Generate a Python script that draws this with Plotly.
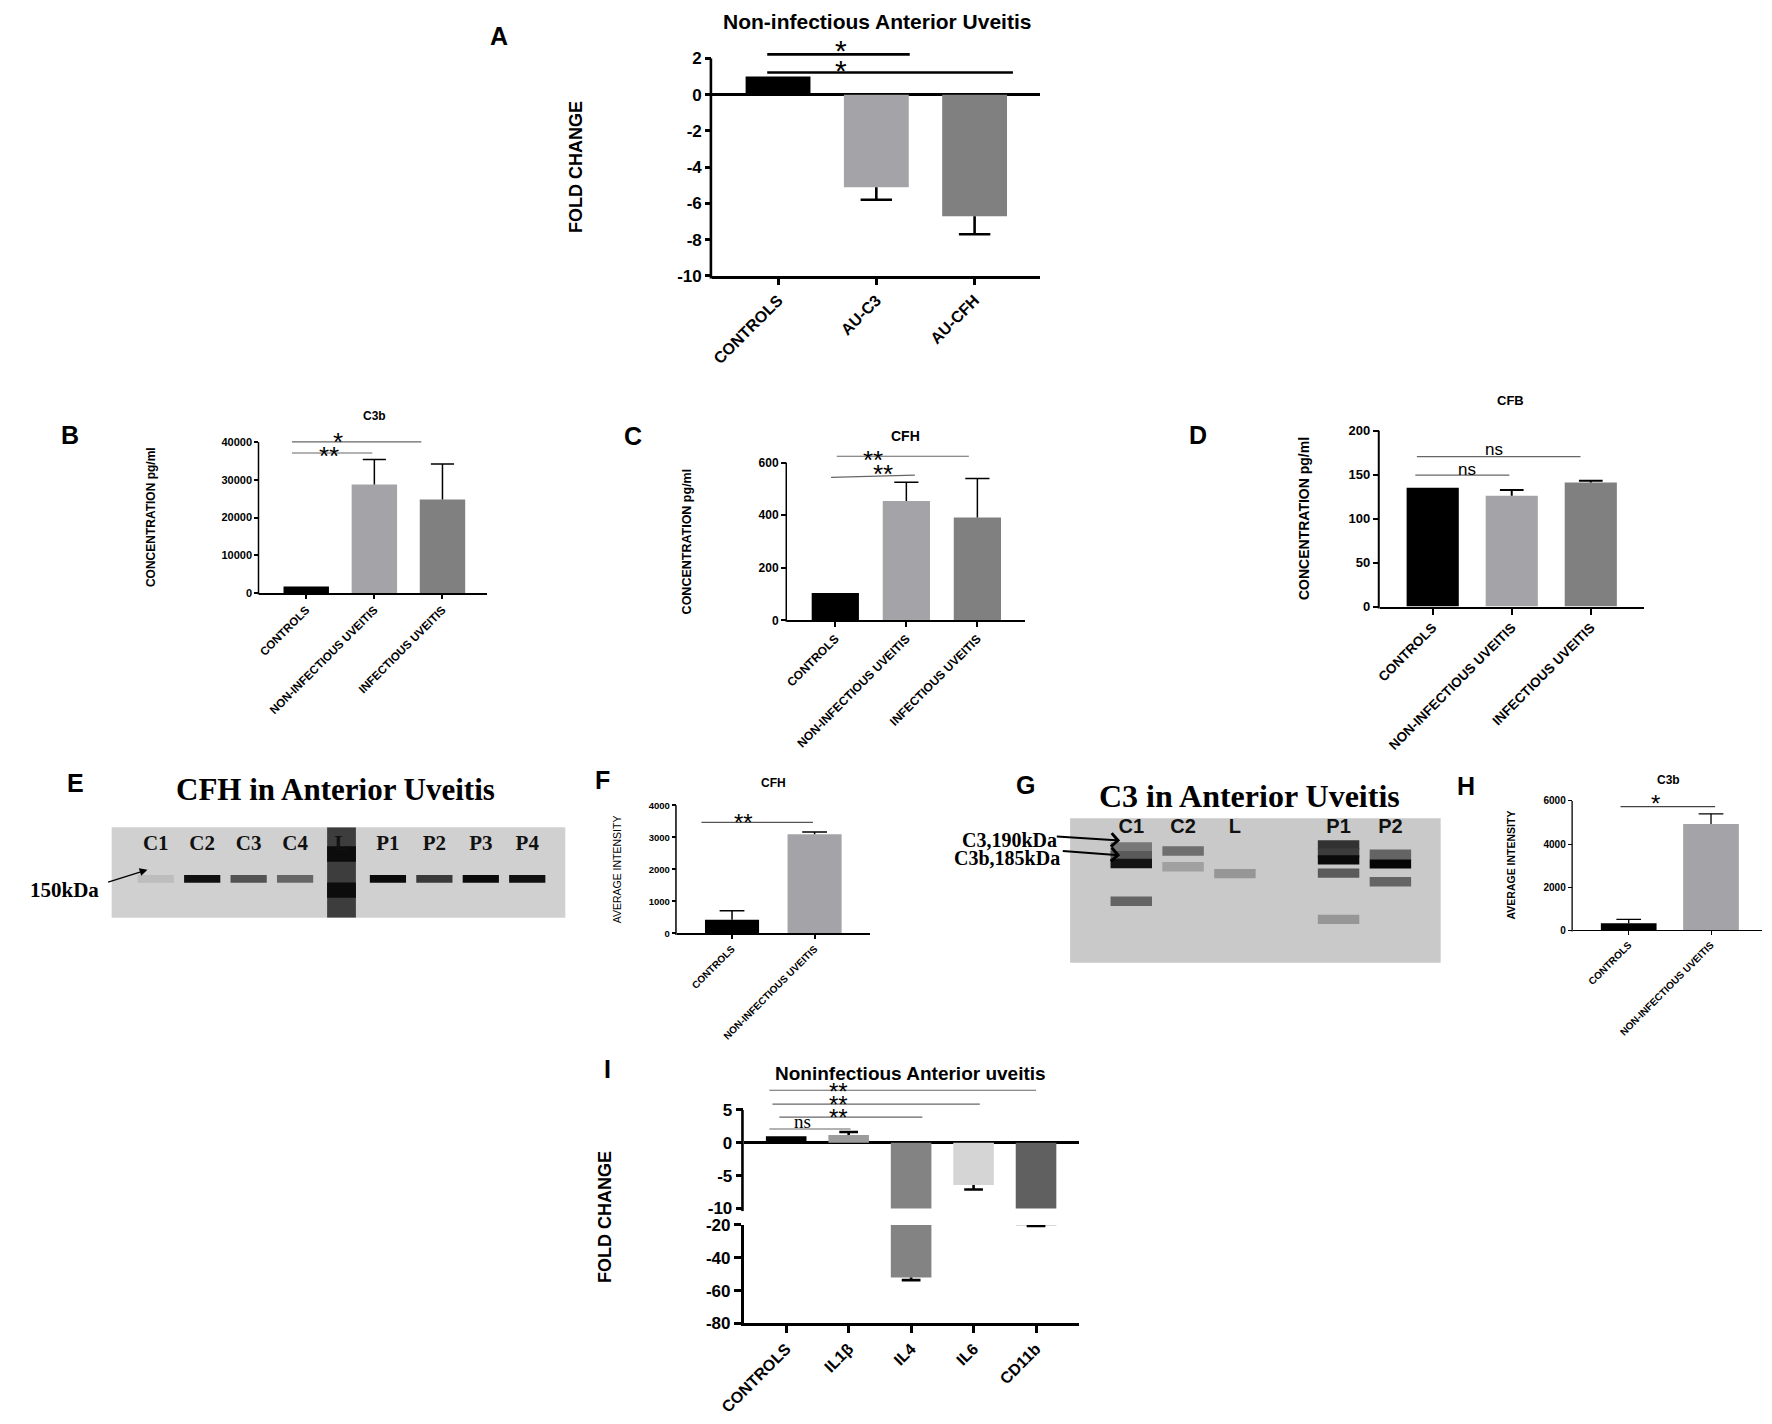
import plotly.graph_objects as go

# the page body keeps its default 8px margin, so the figure is drawn
# slightly smaller and every page position is shifted by that margin
PAGE_W, PAGE_H = 1772, 1424
OFF = 8
FW, FH = PAGE_W - 2 * OFF, PAGE_H - 2 * OFF
SANS = "Liberation Sans"
SERIF = "Liberation Serif"

# ---------------- data ----------------
# A: qPCR fold change
a_cats = ["CONTROLS", "AU-C3", "AU-CFH"]
a_vals = [1.0, -5.1, -6.7]
a_err = [0.0, 0.7, 1.0]

# B-D: ELISA concentrations
uv_cats = ["CONTROLS", "NON-INFECTIOUS UVEITIS", "INFECTIOUS UVEITIS"]
b_vals = [1700, 28800, 24800]
b_err = [0, 6600, 9400]
c_vals = [104, 454, 391]
c_err = [0, 71, 148]
d_vals = [135, 126, 141]
d_err = [0, 6.7, 2.2]

# F, H: blot densitometry
wb_cats = ["CONTROLS", "NON-INFECTIOUS UVEITIS"]
f_vals = [430, 3100]
f_err = [278, 70]
h_vals = [320, 4930]
h_err = [184, 475]

# I: cytokine fold change
i_cats = ["CONTROLS", "IL1β", "IL4", "IL6", "CD11b"]
i_vals = [1.0, 1.2, -52.0, -6.4, -20.2]
i_err = [0.0, 0.45, 1.6, 0.7, 0.5]

# E: CFH western blot (band strength at 150 kDa per lane)
e_lanes = ["C1", "C2", "C3", "C4", "L", "P1", "P2", "P3", "P4"]
e_band = [0.08, 0.92, 0.6, 0.5, 0.0, 0.95, 0.72, 0.95, 0.92]

# G: C3 western blot (relative migration and strength of each band)
g_lanes = ["C1", "C2", "L", "", "P1", "P2"]
g_band_lane = ["C1", "C1", "C1", "C1", "C2", "C2", "L",
               "P1", "P1", "P1", "P1", "P1", "P2", "P2", "P2"]
g_band_pos = [0.80, 0.74, 0.686, 0.425, 0.773, 0.664, 0.616,
              0.814, 0.76, 0.711, 0.62, 0.30, 0.75, 0.684, 0.56]
g_band_int = [0.4, 0.55, 0.9, 0.5, 0.45, 0.2, 0.25,
              0.75, 0.7, 0.95, 0.55, 0.25, 0.5, 0.97, 0.5]

BLACK, LIGHT, DARK = "#000000", "#a4a4a8", "#808080"
uv_colors = [BLACK, LIGHT, DARK]
i_colors = [BLACK, "#9c9c9c", "#838383", "#d5d5d5", "#606060"]


def X(p):
    return (p - OFF) / FW


def Y(p):
    return 1 - (p - OFF) / FH


fig = go.Figure()
layout = dict(width=FW, height=FH, margin=dict(l=0, r=0, t=0, b=0),
              paper_bgcolor="white", plot_bgcolor="white",
              showlegend=False, barmode="overlay")
shapes, annots = [], []


def ids(n):
    s = "" if n == 1 else str(n)
    return "x" + s, "y" + s


def chart_axes(n, xpx, ypx, pads, ncat, yrange, yticks, ytop, lw, tlen,
               tick_fs, cats=None, cat_fs=12, zero=False, xvisible=True,
               yline_full=False):
    xid, yid = ids(n)
    layout["xaxis" + xid[1:]] = dict(
        domain=[X(xpx[0]), X(xpx[1])], anchor=yid,
        range=[-pads[0], ncat - 1 + pads[1]], visible=xvisible,
        showgrid=False, zeroline=False, showline=True, linecolor="black",
        linewidth=lw, ticks="outside", ticklen=tlen, tickwidth=lw,
        tickcolor="black", tickvals=list(range(ncat)), ticktext=cats,
        tickangle=-45,
        tickfont=dict(family=SANS, size=cat_fs, color="black", weight="bold"))
    layout["yaxis" + yid[1:]] = dict(
        domain=[Y(ypx[1]), Y(ypx[0])], anchor=xid, range=yrange,
        showgrid=False, zeroline=zero, zerolinecolor="black",
        zerolinewidth=lw, showline=yline_full, linecolor="black",
        linewidth=lw, ticks="outside", ticklen=tlen, tickwidth=lw,
        tickcolor="black", tickvals=yticks,
        ticktext=["{:g}".format(v) for v in yticks],
        tickfont=dict(family=SANS, size=tick_fs, color="black", weight="bold"))
    if not yline_full:
        wpx = xpx[1] - xpx[0]
        hpx = ypx[1] - ypx[0]
        xo = -lw / 2 / wpx
        shapes.append(dict(
            type="line", xref=xid + " domain", yref=yid + " domain",
            x0=xo, x1=xo, y0=-lw / hpx,
            y1=(ytop - yrange[0]) / (yrange[1] - yrange[0]),
            line=dict(color="black", width=lw)))


def bars(n, vals, errs, colors, width, cap, elw):
    xid, yid = ids(n)
    idx = list(range(len(vals)))
    fig.add_trace(go.Bar(x=idx, y=vals, width=width, xaxis=xid, yaxis=yid,
                         marker=dict(color=colors, line=dict(width=0)),
                         hoverinfo="skip"))
    ex, ey = [], []
    for i, (v, e) in enumerate(zip(vals, errs)):
        if e <= 0:
            continue
        tip = v + e if v >= 0 else v - e
        ex += [i, i, None, i - cap, i + cap, None]
        ey += [v, tip, None, tip, tip, None]
    if ex:
        fig.add_trace(go.Scatter(x=ex, y=ey, mode="lines", xaxis=xid,
                                 yaxis=yid, hoverinfo="skip",
                                 line=dict(color="black", width=elw)))


def sig(n, x0, x1, y0, y1, label, lx, ly, color="#666666", lw=1.2,
        size=26, family=SANS):
    xid, yid = ids(n)
    shapes.append(dict(type="line", xref=xid, yref=yid, x0=x0, x1=x1,
                       y0=y0, y1=y1, line=dict(color=color, width=lw)))
    # asterisks sit high in the em box, pull them down onto their spot
    shift = -0.28 * size if "*" in label else 0
    annots.append(dict(xref=xid, yref=yid, x=lx, y=ly, text=label,
                       showarrow=False, yshift=shift,
                       font=dict(family=family, size=size, color="black")))


def text(x, y, s, size, bold=True, family=SANS, angle=0, xanchor="center"):
    annots.append(dict(xref="paper", yref="paper", x=X(x), y=Y(y),
                       text=s, showarrow=False, textangle=angle,
                       xanchor=xanchor, yanchor="middle",
                       font=dict(family=family, size=size, color="black",
                                 weight="bold" if bold else "normal")))


def arrow(tip, tail, head, width, size):
    annots.append(dict(xref="paper", yref="paper", x=X(tip[0]), y=Y(tip[1]),
                       ax=tail[0] - tip[0], ay=tail[1] - tip[1], text="",
                       showarrow=True, arrowhead=head, arrowwidth=width,
                       arrowsize=size, arrowcolor="black", standoff=0))


# ---------------- A ----------------
chart_axes(1, (697, 1030), (26.1, 270.7), (0.67, 0.67), 3, [-10, 3.3],
           [-10, -8, -6, -4, -2, 0, 2], 2, 2.6, 6, 17, a_cats, 16, zero=True)
bars(1, a_vals, a_err, uv_colors, 0.66, 0.16, 2.6)
sig(1, -0.11, 1.34, 2.22, 2.22, "*", 0.64, 2.9, color="black", lw=2.6,
    size=30)
sig(1, -0.11, 2.39, 1.22, 1.22, "*", 0.64, 1.81, color="black", lw=2.6,
    size=30)
text(863.7, 13, "Non-infectious Anterior Uveitis", 21)
text(559, 160, "FOLD CHANGE", 18, angle=-90)

# ---------------- B ----------------
chart_axes(2, (237.5, 469), (424, 592.3), (0.69, 0.66), 3, [0, 44000],
           [0, 10000, 20000, 30000, 40000], 40000, 1.5, 4, 11, uv_cats, 11.5)
bars(2, b_vals, b_err, uv_colors, 0.667, 0.17, 1.5)
sig(2, -0.21, 0.97, 37124, 37124, "**", 0.33, 38257)
sig(2, -0.21, 1.69, 40087, 40087, "*", 0.46, 42000)
text(354.4, 413, "C3b", 12)
text(128, 515, "CONCENTRATION pg/ml", 12, angle=-90)

# ---------------- C ----------------
chart_axes(3, (772.9, 1014.3), (444, 620), (0.68, 0.67), 3, [0, 660],
           [0, 200, 400, 600], 600, 1.5, 5, 12, uv_cats, 12)
bars(3, c_vals, c_err, uv_colors, 0.665, 0.17, 1.5)
sig(3, -0.06, 1.12, 544, 552, "**", 0.67, 585)
sig(3, 0.02, 1.88, 624, 624, "**", 0.53, 637)
text(893.6, 433, "CFH", 14)
text(671.4, 540, "CONCENTRATION pg/ml", 12.5, angle=-90)

# ---------------- D ----------------
chart_axes(4, (1374.2, 1642), (427.7, 606), (0.67, 0.67), 3, [0, 200],
           [0, 50, 100, 150, 200], 200, 2, 6, 13, uv_cats, 13.5)
bars(4, d_vals, d_err, uv_colors, 0.66, 0.15, 2)
sig(4, -0.22, 0.97, 149.5, 149.5, "ns", 0.43, 155.5, size=17)
sig(4, -0.2, 1.87, 170.5, 170.5, "ns", 0.78, 178.7, size=17)
text(1507, 397, "CFB", 13)
text(1297.6, 517, "CONCENTRATION pg/ml", 14, angle=-90)

# ---------------- E (blot) ----------------
layout["xaxis5"] = dict(domain=[X(87.8), X(548)], anchor="y5",
                        range=[-0.95, len(e_lanes) - 1 + 0.82], visible=False)
layout["yaxis5"] = dict(domain=[Y(921.7), Y(830)], anchor="x5",
                        range=[0, 1], visible=False)
shapes.append(dict(type="rect", xref="x5 domain", yref="y5 domain", x0=0,
                   x1=1, y0=0, y1=1, layer="below", line=dict(width=0),
                   fillcolor="#d0d0d0"))
e_idx = list(range(len(e_lanes)))
e_cols = ["rgb({0},{0},{0})".format(round(205 * (1 - s))) for s in e_band]
lad = e_lanes.index("L")
fig.add_trace(go.Bar(x=[lad], y=[1], base=[0], width=0.62, xaxis="x5",
                     yaxis="y5", marker=dict(color="#3d3d3d", line=dict(width=0)),
                     hoverinfo="skip"))
fig.add_trace(go.Bar(x=[lad, lad], y=[0.17, 0.17], base=[0.62, 0.22],
                     width=0.62, xaxis="x5", yaxis="y5",
                     marker=dict(color="#0c0c0c", line=dict(width=0)),
                     hoverinfo="skip"))
band_idx = [i for i in e_idx if i != lad]
fig.add_trace(go.Bar(x=band_idx, y=[0.085] * len(band_idx),
                     base=[0.43 - 0.0425] * len(band_idx), width=0.78,
                     xaxis="x5", yaxis="y5",
                     marker=dict(color=[e_cols[i] for i in band_idx],
                                 line=dict(width=0)), hoverinfo="skip"))
fig.add_trace(go.Scatter(x=e_idx, y=[0.81] * len(e_idx), text=e_lanes,
                         mode="text", xaxis="x5", yaxis="y5", cliponaxis=False,
                         textfont=dict(family=SERIF, size=21, color="#111111",
                                       weight="bold"), hoverinfo="skip"))
text(314.8, 792, "CFH in Anterior Uveitis", 31, family=SERIF)
text(39.8, 894, "150kDa", 21, family=SERIF)
arrow((124.1, 873), (83.3, 886), 2, 1.3, 1.2)

# ---------------- F ----------------
chart_axes(6, (661, 857), (807.7, 937.7), (0.67, 0.67), 2, [0, 4000],
           [0, 1000, 2000, 3000, 4000], 4000, 1.5, 4, 9.5, wb_cats, 10)
bars(6, f_vals, f_err, [BLACK, LIGHT], 0.655, 0.15, 1.5)
sig(6, -0.37, 0.98, 3467, 3467, "**", 0.14, 3670, color="#555555", size=24)
text(759, 785, "CFH", 12)
text(600, 873, "AVERAGE INTENSITY", 10.5, bold=False, angle=-90)

# ---------------- G (blot) ----------------
layout["xaxis7"] = dict(domain=[X(1060.1), X(1436)], anchor="y7",
                        range=[-1.18, len(g_lanes) - 1 + 0.97], visible=False)
layout["yaxis7"] = dict(domain=[Y(967.3), Y(820.7)], anchor="x7",
                        range=[0, 1], visible=False)
shapes.append(dict(type="rect", xref="x7 domain", yref="y7 domain", x0=0,
                   x1=1, y0=0, y1=1, layer="below", line=dict(width=0),
                   fillcolor="#c9c9c9"))
g_x = [g_lanes.index(l) for l in g_band_lane]
g_cols = ["rgb({0},{0},{0})".format(round(200 * (1 - s))) for s in g_band_int]
fig.add_trace(go.Bar(x=g_x, y=[0.065] * len(g_x),
                     base=[p - 0.0325 for p in g_band_pos], width=0.8,
                     xaxis="x7", yaxis="y7",
                     marker=dict(color=g_cols, line=dict(width=0)),
                     hoverinfo="skip"))
g_lab = [i for i, l in enumerate(g_lanes) if l]
fig.add_trace(go.Scatter(x=g_lab, y=[0.93] * len(g_lab),
                         text=[g_lanes[i] for i in g_lab], mode="text",
                         xaxis="x7", yaxis="y7", cliponaxis=False,
                         textfont=dict(family=SANS, size=20, color="#111111",
                                       weight="bold"), hoverinfo="skip"))
text(1242.4, 798, "C3 in Anterior Uveitis", 32, family=SERIF)
text(1049, 843, "C3,190kDa", 20, family=SERIF, xanchor="right")
text(1052, 861, "C3b,185kDa", 20, family=SERIF, xanchor="right")
arrow((1110.8, 843.3), (1046, 839.3), 4, 2, 1.3)
arrow((1110.8, 858.3), (1052, 854), 4, 2, 1.3)

# ---------------- H ----------------
chart_axes(8, (1570, 1762), (790.2, 934.3), (0.68, 0.62), 2, [0, 6600],
           [0, 2000, 4000, 6000], 6000, 1.3, 4, 10, wb_cats, 10)
bars(8, h_vals, h_err, [BLACK, LIGHT], 0.677, 0.15, 1.3)
sig(8, -0.1, 1.05, 5740, 5740, "*", 0.32, 6183, color="#444444", size=24)
text(1667.5, 782, "C3b", 12)
text(1507, 868, "AVERAGE INTENSITY", 10.5, angle=-90)

# ---------------- I (broken axis) ----------------
chart_axes(9, (729, 1068.6), (1084.7, 1216.7), (0.68, 0.68), 5, [-10, 9.8],
           [-10, -5, 0, 5], 5, 2.6, 7, 17, zero=True, xvisible=False)
bars(9, i_vals, i_err, i_colors, 0.65, 0.15, 2.6)
chart_axes(10, (729, 1068.6), (1233.3, 1333.3), (0.68, 0.68), 5, [-80, -20],
           [-80, -60, -40, -20], -20, 2.6, 7, 17, i_cats, 16, yline_full=True)
bars(10, i_vals, i_err, i_colors, 0.65, 0.15, 2.6)
sig(9, -0.27, 1.03, 2.1, 2.1, "ns", 0.26, 3.2, size=19, family=SERIF)
sig(9, -0.11, 2.18, 3.9, 3.9, "**", 0.84, 4.8, size=24)
sig(9, -0.22, 3.1, 5.9, 5.9, "**", 0.84, 6.9, size=24)
sig(9, -0.27, 4.0, 8.0, 8.0, "**", 0.84, 8.9, size=24)
text(897.9, 1080, "Noninfectious Anterior uveitis", 19)
text(587.6, 1225, "FOLD CHANGE", 18, angle=-90)

# ---------------- panel letters ----------------
for lab, x, y in [("A", 480.6, 27), ("B", 46, 432), ("C", 616.8, 433),
                  ("D", 1189.7, 432), ("E", 50.7, 785), ("F", 586, 782),
                  ("G", 1014.8, 787), ("H", 1462, 788), ("I", 591, 1075)]:
    text(x, y, lab, 25)

layout["shapes"] = shapes
layout["annotations"] = annots
fig.update_layout(**layout)
fig.write_html("out.html")
